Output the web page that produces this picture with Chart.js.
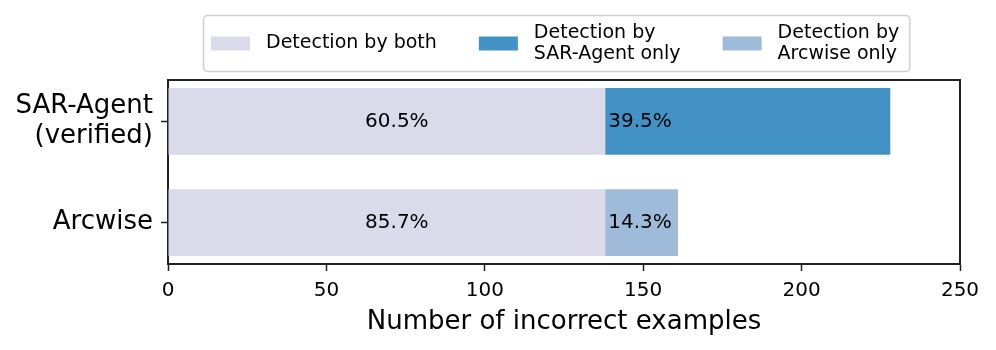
<!DOCTYPE html>
<html>
<head>
<meta charset="utf-8">
<script src="https://cdn.jsdelivr.net/npm/chart.js@4.4.0/dist/chart.umd.min.js"></script>
<style>
  html, body { margin: 0; padding: 0; background: #fff; }
  #wrap { width: 996px; height: 350px; position: relative; }
</style>
</head>
<body>
<div id="wrap"><canvas id="chart"></canvas></div>
<script>
// data
const categories = [['SAR-Agent', '(verified)'], 'Arcwise'];
const seriesLabels = ['Detection by both', ['Detection by', 'SAR-Agent only'], ['Detection by', 'Arcwise only']];
const bothCounts = [138, 138];
const sarOnlyCounts = [90, null];
const arcwiseOnlyCounts = [null, 23];
const xTicks = [0, 50, 100, 150, 200, 250];
const xTitle = 'Number of incorrect examples';

const colors = ['#dadaeb', '#4292c6', '#9ebcda'];
const FONT = "'DejaVu Sans', sans-serif";
const INK = '#222';

const totals = categories.map((_, i) =>
  bothCounts[i] + (sarOnlyCounts[i] || 0) + (arcwiseOnlyCounts[i] || 0));

function toPoints(values) {
  return values.map((v, i) => ({ x: v, y: i })).filter(p => p.x !== null);
}

// percentage text on each bar segment
const barLabels = {
  id: 'barLabels',
  afterDatasetsDraw(chart) {
    const ctx = chart.ctx;
    ctx.save();
    ctx.font = `20px ${FONT}`;
    ctx.fillStyle = '#000';
    ctx.textBaseline = 'middle';
    chart.data.datasets.forEach((ds, d) => {
      chart.getDatasetMeta(d).data.forEach((bar, j) => {
        const pt = ds.data[j];
        const pct = (pt.x / totals[pt.y] * 100).toFixed(1) + '%';
        if (d === 0) {
          ctx.textAlign = 'center';
          ctx.fillText(pct, (bar.base + bar.x) / 2 + 10, bar.y);
        } else {
          ctx.textAlign = 'left';
          ctx.fillText(pct, bar.base + 3, bar.y);
        }
      });
    });
    ctx.restore();
  }
};

// top and right spines
const frame = {
  id: 'frame',
  afterDraw(chart) {
    const { ctx, chartArea: a } = chart;
    ctx.save();
    ctx.strokeStyle = INK;
    ctx.lineWidth = 2;
    ctx.beginPath();
    ctx.moveTo(a.left - 1, a.top);
    ctx.lineTo(a.right, a.top);
    ctx.lineTo(a.right, a.bottom);
    ctx.stroke();
    ctx.restore();
  }
};

// boxed legend above the plot, with two-line labels
const boxLegend = {
  id: 'boxLegend',
  afterDraw(chart) {
    const ctx = chart.ctx;
    const a = chart.chartArea;
    const sw = 39, sh = 14, gap = 16, colGap = 42, padL = 8, padR = 10;
    const lineH = 21;
    ctx.save();
    ctx.font = `19px ${FONT}`;
    const items = chart.data.datasets.map(ds => {
      const lines = Array.isArray(ds.label) ? ds.label : [ds.label];
      const w = Math.max(...lines.map(l => ctx.measureText(l).width));
      return { lines, w, color: ds.backgroundColor };
    });
    let total = padL + padR;
    items.forEach((it, i) => { total += sw + gap + it.w + (i ? colGap : 0); });
    const top = 15, bottom = 71;
    const left = Math.round((a.left + a.right) / 2 - 7.5 - total / 2);
    const cy = (top + bottom) / 2 + 0.5;

    ctx.fillStyle = '#fff';
    ctx.strokeStyle = '#d0d0d0';
    ctx.lineWidth = 1.5;
    ctx.beginPath();
    ctx.roundRect(left + 0.5, top + 0.5, total, bottom - top, 4);
    ctx.fill();
    ctx.stroke();

    let x = left + padL;
    ctx.textBaseline = 'middle';
    ctx.textAlign = 'left';
    items.forEach(it => {
      ctx.fillStyle = it.color;
      ctx.fillRect(x, cy - sh / 2, sw, sh);
      ctx.fillStyle = '#000';
      const y0 = cy - (it.lines.length - 1) * lineH / 2;
      it.lines.forEach((l, k) => ctx.fillText(l, x + sw + gap, y0 + k * lineH));
      x += sw + gap + it.w + colGap;
    });
    ctx.restore();
  }
};

new Chart(document.getElementById('chart').getContext('2d'), {
  type: 'bar',
  data: {
    datasets: [
      { label: seriesLabels[0], data: toPoints(bothCounts), backgroundColor: colors[0] },
      { label: seriesLabels[1], data: toPoints(sarOnlyCounts), backgroundColor: colors[1] },
      { label: seriesLabels[2], data: toPoints(arcwiseOnlyCounts), backgroundColor: colors[2] }
    ]
  },
  options: {
    indexAxis: 'y',
    responsive: true,
    maintainAspectRatio: false,
    animation: false,
    categoryPercentage: 1,
    barPercentage: 0.66,
    borderWidth: 0,
    layout: { padding: { top: 80, right: 36, bottom: 0, left: 0 } },
    plugins: { legend: { display: false }, tooltip: { enabled: false } },
    scales: {
      x: {
        type: 'linear',
        stacked: true,
        min: xTicks[0],
        max: xTicks[xTicks.length - 1],
        afterBuildTicks: s => { s.ticks = xTicks.map(v => ({ value: v })); },
        afterFit: s => { s.height = 86; },
        ticks: { color: '#000', font: { family: FONT, size: 20 }, padding: 8 },
        grid: { drawOnChartArea: false, drawTicks: true, tickLength: 7, color: INK, tickWidth: 1.5 },
        border: { display: true, color: INK, width: 2 },
        title: {
          display: true, text: xTitle, color: '#000',
          font: { family: FONT, size: 26 }, padding: { top: 0, bottom: 12 }
        }
      },
      y: {
        type: 'linear',
        stacked: true,
        reverse: true,
        offset: false,
        min: -0.41,
        max: categories.length - 1 + 0.41,
        afterBuildTicks: s => { s.ticks = categories.map((_, i) => ({ value: i })); },
        afterFit: s => { s.width = 168; },
        ticks: {
          color: '#000', font: { family: FONT, size: 26, lineHeight: 1.15 }, padding: 8,
          callback: v => categories[v]
        },
        grid: { offset: false, drawOnChartArea: false, drawTicks: true, tickLength: 7, color: INK, tickWidth: 1.5 },
        border: { display: true, color: INK, width: 2 }
      }
    }
  },
  plugins: [barLabels, frame, boxLegend]
});
</script>
</body>
</html>
